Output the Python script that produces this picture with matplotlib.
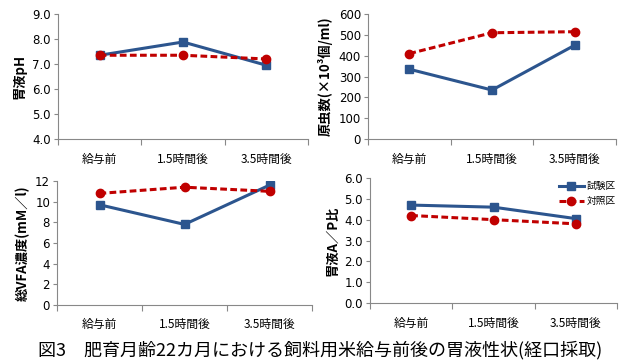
import matplotlib
matplotlib.use("Agg")
import matplotlib.pyplot as plt
import numpy as np

plt.rcParams['font.family'] = ['Noto Sans CJK JP', 'DejaVu Sans']

categories = ["給与前", "1.5時間後", "3.5時間後"]
series_names = ["試験区", "対照区"]

ph_trial = [7.35, 7.88, 6.95]
ph_control = [7.35, 7.35, 7.20]
proto_trial = [335, 235, 450]
proto_control = [410, 510, 515]
vfa_trial = [9.7, 7.8, 11.6]
vfa_control = [10.8, 11.4, 11.0]
ap_trial = [4.7, 4.6, 4.05]
ap_control = [4.2, 4.0, 3.8]

title = "図3　肥育月齢22カ月における飼料用米給与前後の胃液性状(経口採取)"

W, H = 628, 364
fig = plt.figure(figsize=(W/100, H/100), dpi=100)

blue = "#2C558E"
red = "#C00000"

panels = [
    dict(rect=(58, 14, 308, 139), tr=ph_trial, ct=ph_control, ylim=(4, 9), step=1.0,
         fmt="{:.1f}", ylabel="胃液pH"),
    dict(rect=(368, 14, 616, 139), tr=proto_trial, ct=proto_control, ylim=(0, 600), step=100,
         fmt="{:.0f}", ylabel="原虫数(×10³個/ml)"),
    dict(rect=(57, 181, 312, 305), tr=vfa_trial, ct=vfa_control, ylim=(0, 12), step=2,
         fmt="{:.0f}", ylabel="総VFA濃度(mM／l)"),
    dict(rect=(370, 178, 617, 303), tr=ap_trial, ct=ap_control, ylim=(0, 6), step=1.0,
         fmt="{:.1f}", ylabel="胃液A／P比"),
]

for i, p in enumerate(panels):
    x0, y0, x1, y1 = p["rect"]
    ax = fig.add_axes([x0/W, 1 - y1/H, (x1-x0)/W, (y1-y0)/H])
    xs = np.arange(len(categories))
    l1, = ax.plot(xs, p["tr"], color=blue, lw=2.2, marker="s", ms=6, label=series_names[0])
    l2, = ax.plot(xs, p["ct"], color=red, lw=2.2, ls=(0, (2.2, 1.1)), marker="o", ms=6,
                  label=series_names[1])
    ax.set_xlim(-0.5, len(categories) - 0.5)
    ax.set_ylim(*p["ylim"])
    ticks = np.arange(p["ylim"][0], p["ylim"][1] + p["step"]/2, p["step"])
    ax.set_yticks(ticks)
    ax.set_yticklabels([p["fmt"].format(t) for t in ticks], fontsize=8.5, family="DejaVu Sans")
    ax.set_xticks(np.arange(-0.5, len(categories)), minor=False)
    ax.set_xticklabels([])
    ax.tick_params(axis="x", direction="out", length=4, color="#888888")
    ax.tick_params(axis="y", direction="out", length=3, color="#888888", pad=2)
    for k, c in enumerate(categories):
        ax.text(k, -0.16, c, transform=ax.get_xaxis_transform(), ha="center", va="center",
                fontsize=8.5)
    for s in ["top", "right"]:
        ax.spines[s].set_visible(False)
    for s in ["left", "bottom"]:
        ax.spines[s].set_color("#888888")
    ax.set_ylabel(p["ylabel"], fontsize=9.5, fontweight="bold", labelpad=4)
    if i == 3:
        ax.legend(handles=[l1, l2], loc="upper right", bbox_to_anchor=(1.02, 1.02),
                  frameon=False, fontsize=7, handlelength=2.6, handletextpad=0.3,
                  labelspacing=0.5, borderaxespad=0.2)

fig.text(320/W, 1 - 350/H, title, ha="center", va="center", fontsize=13)

fig.savefig("out.png", dpi=100)
